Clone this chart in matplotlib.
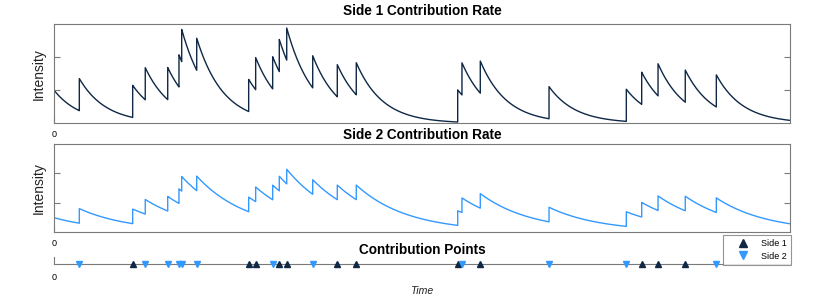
import numpy as np
import matplotlib.pyplot as plt
from matplotlib.lines import Line2D

plt.rcParams['font.family'] = ['Liberation Sans', 'DejaVu Sans']

# event times (time axis 0..100)
side1_times = [10.69, 26.45, 27.40, 30.61, 31.62, 38.49, 41.07, 54.85, 57.92, 79.85, 82.07, 85.77]
side2_times = [3.44, 12.40, 15.45, 16.98, 17.35, 19.39, 29.71, 35.15, 55.43, 67.26, 77.76, 89.99]
t_end = 100.0

# exponential kernel settings for each side (start value, jump, decay)
side1_start, side1_jump, side1_decay = 1.0, 0.97, 0.28
side2_start, side2_jump, side2_decay = 0.48, 0.50, 0.145

col1 = '#0f2846'
col2 = '#3399ff'
axcol = '#7a7a7a'


def rate_curve(events, start, jump, decay):
    events = sorted(events)
    bounds = [0.0] + events + [t_end]
    xs, ys = [], []
    for i in range(len(bounds) - 1):
        seg = np.linspace(bounds[i], bounds[i + 1], 150)
        past = np.array(events[:i])
        val = start * np.exp(-decay * seg)
        for ti in past:
            val = val + jump * np.exp(-decay * (seg - ti))
        xs.append(seg)
        ys.append(val)
    return np.concatenate(xs), np.concatenate(ys)


all_events = side1_times + side2_times
x1, y1 = rate_curve(all_events, side1_start, side1_jump, side1_decay)
x2, y2 = rate_curve(all_events, side2_start, side2_jump, side2_decay)

fig = plt.figure(figsize=(8.3, 2.99), dpi=100)
left, width = 54 / 830, 736 / 830
ax1 = fig.add_axes([left, 1 - 123.3 / 299, width, 99.3 / 299])
ax2 = fig.add_axes([left, 1 - 231.7 / 299, width, 87.4 / 299])
ax3 = fig.add_axes([left, 1 - 264.3 / 299, width, 7 / 299])


def style_box(ax):
    for s in ax.spines.values():
        s.set_color(axcol)
        s.set_linewidth(0.8)
    ax.tick_params(direction='in', length=4.3, width=0.8, color=axcol,
                   left=True, right=True, top=False, labelsize=6.5, pad=5)
    ax.set_xlim(0, t_end)
    ax.set_ylim(0, 3)
    ax.set_xticks([0])
    ax.set_yticks([1, 2])
    ax.set_yticklabels([])
    ax.set_ylabel('Intensity', fontsize=10, labelpad=1, color='#222222')


ax1.plot(x1, y1, color=col1, lw=1.0)
style_box(ax1)
ax1.set_title('Side 1 Contribution Rate', fontsize=9.8, fontweight='bold', pad=6.5)

ax2.plot(x2, y2, color=col2, lw=1.0)
style_box(ax2)
ax2.set_title('Side 2 Contribution Rate', fontsize=9.8, fontweight='bold', pad=3.6)

# contribution points
ax3.plot(side1_times, np.zeros(len(side1_times)), linestyle='none', marker='^',
         color=col1, markersize=5, clip_on=False, zorder=3)
ax3.plot(side2_times, np.zeros(len(side2_times)), linestyle='none', marker='v',
         color=col2, markersize=5, clip_on=False, zorder=3)
ax3.set_xlim(0, t_end)
ax3.set_ylim(0, 1)
ax3.spines['top'].set_visible(False)
ax3.spines['right'].set_visible(False)
for s in ['left', 'bottom']:
    ax3.spines[s].set_color(axcol)
    ax3.spines[s].set_linewidth(0.8)
ax3.set_yticks([])
ax3.set_xticks([0])
ax3.tick_params(direction='in', length=0, labelsize=6.5, pad=6)
ax3.set_title('Contribution Points', fontsize=9.8, fontweight='bold', pad=2)
ax3.set_xlabel('Time', fontsize=7.6, style='italic', labelpad=3, color='#222222')

handles = [Line2D([], [], linestyle='none', marker='^', color=col1, markersize=5.5),
           Line2D([], [], linestyle='none', marker='v', color=col2, markersize=5.5)]
leg = fig.legend(handles, ['Side 1', 'Side 2'], loc='upper right',
                 bbox_to_anchor=(790.7 / 830, 1 - 235.3 / 299), fontsize=6.5,
                 frameon=True, fancybox=False, borderpad=0.45, handlelength=3.5,
                 handletextpad=0.2, labelspacing=0.35, borderaxespad=0)
leg.get_frame().set_edgecolor(axcol)
leg.get_frame().set_linewidth(0.8)

fig.savefig('out.png', dpi=100)
